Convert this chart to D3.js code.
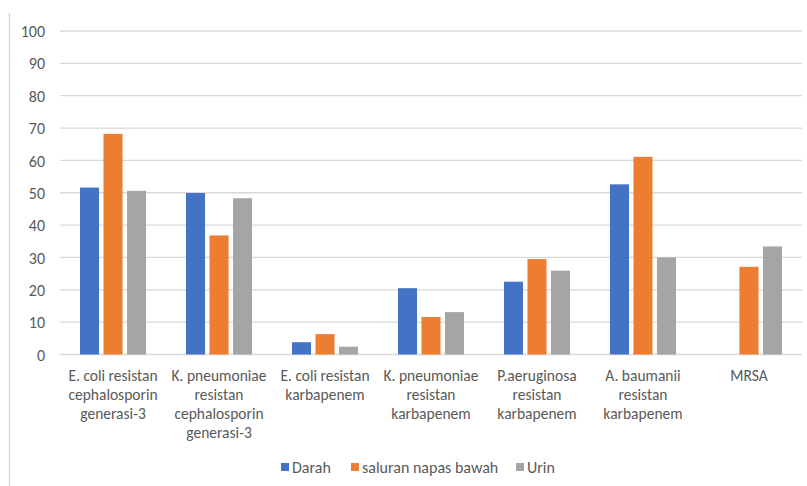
<!DOCTYPE html>
<html>
<head>
<meta charset="utf-8">
<script src="https://cdn.jsdelivr.net/npm/d3@7"></script>
<style>
  html, body { margin: 0; padding: 0; background: #fff; }
  svg { display: block; }
  text { font-family: Carlito, "Open Sans", sans-serif; fill: #595959; }
</style>
</head>
<body>
<svg id="chart" width="807" height="486"></svg>
<script>
// Resistance percentages by specimen type
const categories = [
  "E. coli resistan cephalosporin generasi-3",
  "K. pneumoniae resistan cephalosporin generasi-3",
  "E. coli resistan karbapenem",
  "K. pneumoniae resistan karbapenem",
  "P.aeruginosa resistan karbapenem",
  "A. baumanii resistan karbapenem",
  "MRSA"
];
// Label lines as wrapped under each group
const categoryLines = [
  ["E. coli resistan", "cephalosporin", "generasi-3"],
  ["K. pneumoniae", "resistan", "cephalosporin", "generasi-3"],
  ["E. coli resistan", "karbapenem"],
  ["K. pneumoniae", "resistan", "karbapenem"],
  ["P.aeruginosa", "resistan", "karbapenem"],
  ["A. baumanii", "resistan", "karbapenem"],
  ["MRSA"]
];
const seriesNames = ["Darah", "saluran napas bawah", "Urin"];
const darah  = [51.6, 49.9, 3.8, 20.5, 22.5, 52.6, null];
const saluran = [68.2, 36.8, 6.3, 11.6, 29.5, 61.1, 27.1];
const urin   = [50.6, 48.3, 2.4, 13.1, 25.9, 30.0, 33.4];
const seriesColors = ["#4472C4", "#ED7D31", "#A5A5A5"];
const yTicks = [0, 10, 20, 30, 40, 50, 60, 70, 80, 90, 100];

const seriesValues = [darah, saluran, urin];
const svg = d3.select("#chart");

const plot = { left: 60, right: 802, top: 31, bottom: 354.5 };

const x0 = d3.scaleBand()
  .domain(categories)
  .range([plot.left, plot.right])
  .paddingInner(0.377)
  .paddingOuter(0.1887);

const x1 = d3.scaleBand()
  .domain(seriesNames)
  .range([0, x0.bandwidth()])
  .paddingInner(0.19);

const y = d3.scaleLinear().domain([0, 100]).range([plot.bottom, plot.top]);

// Left frame line
svg.append("line")
  .attr("x1", 9.5).attr("x2", 9.5)
  .attr("y1", 13).attr("y2", 486)
  .attr("stroke", "#d9d9d9").attr("stroke-width", 1.5);

// Gridlines
svg.append("g")
  .selectAll("line")
  .data(yTicks)
  .join("line")
  .attr("x1", plot.left).attr("x2", plot.right)
  .attr("y1", d => y(d)).attr("y2", d => y(d))
  .attr("stroke", "#d9d9d9").attr("stroke-width", 1.3);

// Y axis labels
const yAxis = d3.axisLeft(y).tickValues(yTicks).tickSize(0).tickPadding(0);
const yG = svg.append("g")
  .attr("transform", `translate(45,0)`)
  .call(yAxis);
yG.select(".domain").remove();
yG.selectAll("text")
  .attr("font-size", 16)
  .attr("font-family", null)
  .attr("fill", "#595959")
  .attr("dy", "0.35em");

// Bars
const groups = svg.append("g")
  .selectAll("g")
  .data(categories)
  .join("g")
  .attr("transform", d => `translate(${x0(d)},0)`);

groups.selectAll("rect")
  .data((d, i) => seriesNames.map((s, j) => ({ s, v: seriesValues[j][i], c: seriesColors[j] })))
  .join("rect")
  .filter(d => d.v != null)
  .attr("x", d => x1(d.s))
  .attr("width", x1.bandwidth())
  .attr("y", d => y(d.v))
  .attr("height", d => y(0) - y(d.v))
  .attr("fill", d => d.c);

// Category labels
const labels = svg.append("g")
  .selectAll("text")
  .data(categories)
  .join("text")
  .attr("text-anchor", "middle")
  .attr("font-size", 15.5)
  .attr("x", d => x0(d) + x0.bandwidth() / 2)
  .attr("y", 381);
labels.selectAll("tspan")
  .data((d, i) => categoryLines[i])
  .join("tspan")
  .attr("x", function () { return d3.select(this.parentNode).attr("x"); })
  .attr("dy", (d, i) => i === 0 ? 0 : 19)
  .text(d => d);

// Legend
const legendItems = [
  { name: seriesNames[0], color: seriesColors[0], x: 281 },
  { name: seriesNames[1], color: seriesColors[1], x: 351 },
  { name: seriesNames[2], color: seriesColors[2], x: 516 }
];
const legend = svg.append("g").selectAll("g")
  .data(legendItems)
  .join("g")
  .attr("transform", d => `translate(${d.x},463)`);
legend.append("rect")
  .attr("width", 8).attr("height", 8)
  .attr("fill", d => d.color);
legend.append("text")
  .attr("x", 11).attr("y", 4)
  .attr("dy", "0.35em")
  .attr("font-size", 16)
  .text(d => d.name);
</script>
</body>
</html>
